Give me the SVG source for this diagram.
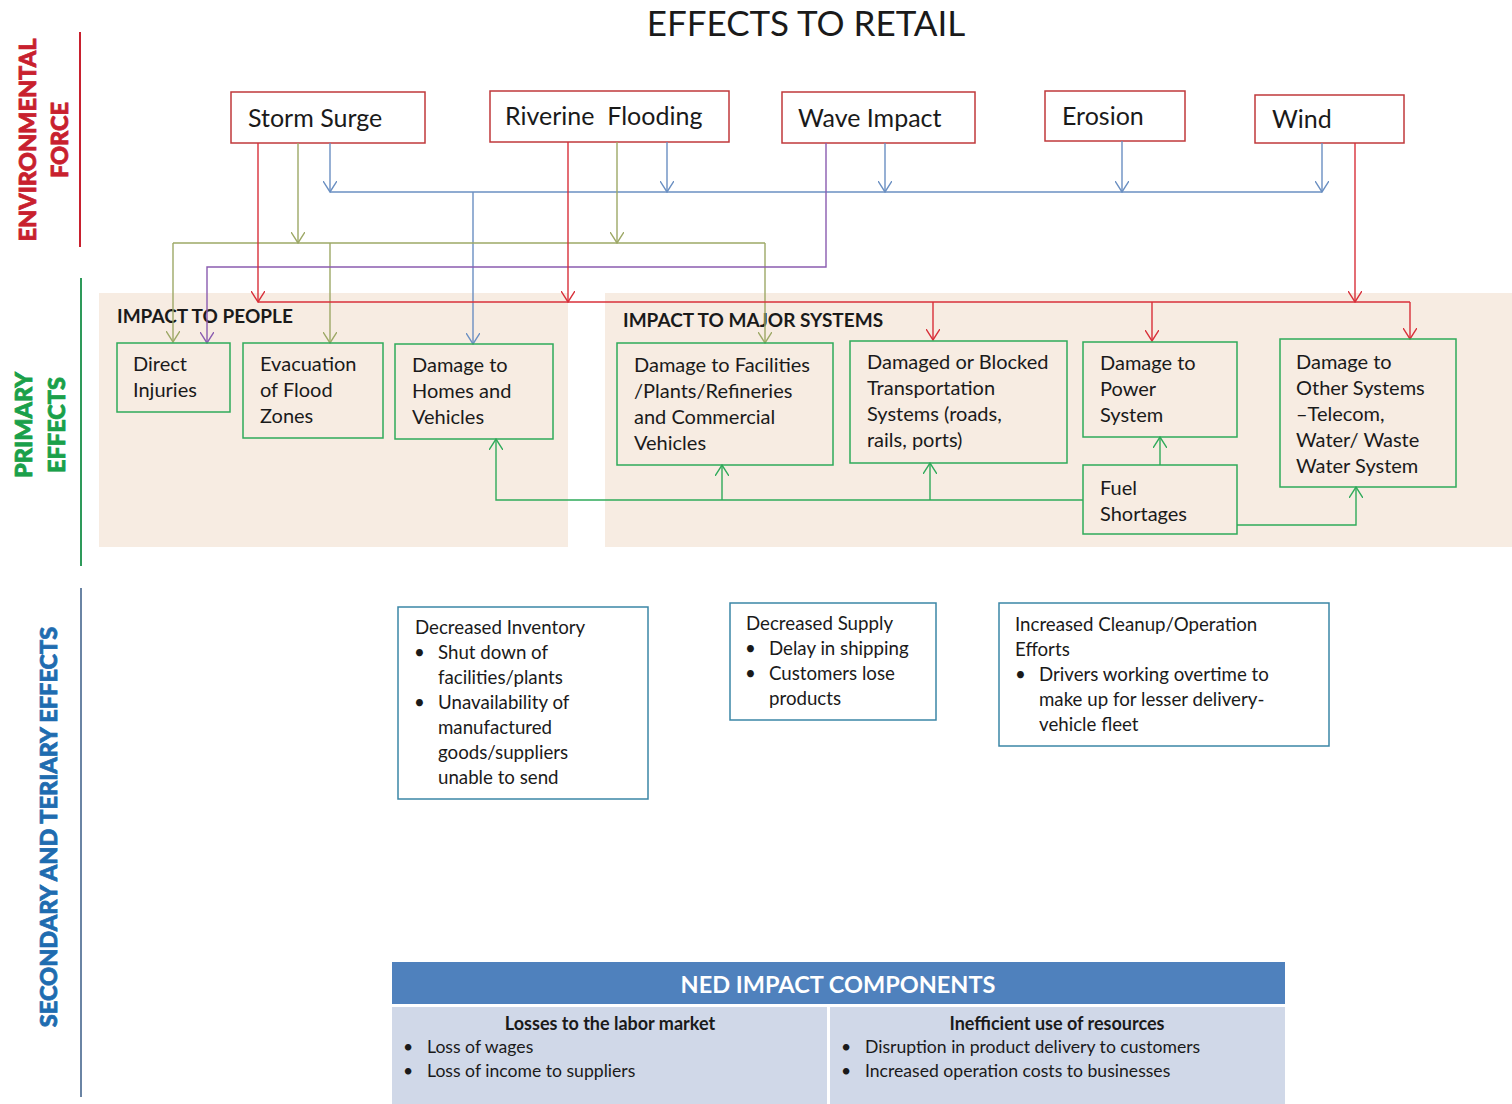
<svg xmlns="http://www.w3.org/2000/svg" width="1512" height="1104" viewBox="0 0 1512 1104">
  <style>
    text { font-family: Lato, "Open Sans", "Liberation Sans", sans-serif; fill: #1a1a1a; }
    .title { font-size: 35px; }
    .side { font-weight: 900; font-size: 23.5px; stroke-width: 0.8px; }
    .force { fill: #c8202e; stroke: #c8202e; }
    .prim { fill: #1aa04a; stroke: #1aa04a; }
    .sec { fill: #1f6cb0; stroke: #1f6cb0; }
    .src rect { fill: #ffffff; stroke: #c0393b; stroke-width: 1.5; }
    .src text { font-size: 25px; white-space: pre; }
    .eff rect { fill: none; stroke: #2faa5a; stroke-width: 1.5; }
    .eff text { font-size: 20px; }
    .hdr { font-weight: bold; font-size: 19px; }
    .sec2 rect { fill: #ffffff; stroke: #3b86a6; stroke-width: 1.5; }
    .sec2 text { font-size: 18.7px; }
    .ned text { font-size: 17.6px; }
    .ned .cap { font-weight: bold; font-size: 18px; }
    .ned .head { font-weight: bold; font-size: 23.5px; fill: #ffffff; }
    .c { fill: none; stroke-width: 1.4; }
    .red { stroke: #d8303a; marker-end: url(#aRed); }
    .olv { stroke: #9da866; marker-end: url(#aOlv); }
    .blu { stroke: #6a8fc2; marker-end: url(#aBlu); }
    .pur { stroke: #8a5cb0; marker-end: url(#aPur); }
    .grn { stroke: #2faa5a; marker-end: url(#aGrn); }
    .nm { marker-end: none; }
  </style>
  <defs>
    <marker id="aRed" viewBox="0 0 12 14" refX="11" refY="7" markerWidth="12" markerHeight="14" markerUnits="userSpaceOnUse" orient="auto">
      <path d="M0,0 L11,7 L0,14" fill="none" stroke="#d8303a" stroke-width="1.4"/>
    </marker>
    <marker id="aOlv" viewBox="0 0 12 14" refX="11" refY="7" markerWidth="12" markerHeight="14" markerUnits="userSpaceOnUse" orient="auto">
      <path d="M0,0 L11,7 L0,14" fill="none" stroke="#9da866" stroke-width="1.4"/>
    </marker>
    <marker id="aBlu" viewBox="0 0 12 14" refX="11" refY="7" markerWidth="12" markerHeight="14" markerUnits="userSpaceOnUse" orient="auto">
      <path d="M0,0 L11,7 L0,14" fill="none" stroke="#6a8fc2" stroke-width="1.4"/>
    </marker>
    <marker id="aPur" viewBox="0 0 12 14" refX="11" refY="7" markerWidth="12" markerHeight="14" markerUnits="userSpaceOnUse" orient="auto">
      <path d="M0,0 L11,7 L0,14" fill="none" stroke="#8a5cb0" stroke-width="1.4"/>
    </marker>
    <marker id="aGrn" viewBox="0 0 12 14" refX="11" refY="7" markerWidth="12" markerHeight="14" markerUnits="userSpaceOnUse" orient="auto">
      <path d="M0,0 L11,7 L0,14" fill="none" stroke="#2faa5a" stroke-width="1.4"/>
    </marker>
  </defs>

  <rect width="1512" height="1104" fill="#ffffff"/>

  <!-- title -->
  <text class="title" x="806" y="36" text-anchor="middle">EFFECTS TO RETAIL</text>

  <!-- row labels with their rules -->
  <g id="row-labels">
    <text class="side force" transform="translate(36,140) rotate(-90)" text-anchor="middle">ENVIRONMENTAL</text>
    <text class="side force" transform="translate(68,140) rotate(-90)" text-anchor="middle">FORCE</text>
    <line x1="80" y1="32" x2="80" y2="247" stroke="#c8202e" stroke-width="2"/>
    <text class="side prim" transform="translate(32,425) rotate(-90)" text-anchor="middle">PRIMARY</text>
    <text class="side prim" transform="translate(65,425) rotate(-90)" text-anchor="middle">EFFECTS</text>
    <line x1="81" y1="278" x2="81" y2="566" stroke="#2e9a5a" stroke-width="2"/>
    <text class="side sec" transform="translate(57,827) rotate(-90)" text-anchor="middle">SECONDARY AND TERIARY EFFECTS</text>
    <line x1="81" y1="588" x2="81" y2="1097" stroke="#6a84a4" stroke-width="2"/>
  </g>

  <!-- shaded panels for the primary effects -->
  <rect x="99" y="293" width="469" height="254" fill="#f7ece2"/>
  <rect x="605" y="293" width="907" height="254" fill="#f7ece2"/>
  <text class="hdr" x="117" y="323">IMPACT TO PEOPLE</text>
  <text class="hdr" x="623" y="327">IMPACT TO MAJOR SYSTEMS</text>

  <!-- environmental forces -->
  <g id="storm-surge" class="src"><rect x="231" y="92" width="194" height="51"/><text x="248" y="127">Storm Surge</text></g>
  <g id="riverine-flooding" class="src"><rect x="490" y="91" width="239" height="51"/><text x="505" y="125">Riverine  Flooding</text></g>
  <g id="wave-impact" class="src"><rect x="782" y="92" width="193" height="51"/><text x="798" y="127">Wave Impact</text></g>
  <g id="erosion" class="src"><rect x="1045" y="91" width="140" height="50"/><text x="1062" y="125">Erosion</text></g>
  <g id="wind" class="src"><rect x="1255" y="95" width="149" height="48"/><text x="1272" y="128">Wind</text></g>

  <!-- connectors -->
  <g id="connectors">
    <!-- blue bus -->
    <path class="c blu nm" d="M330,192 H1322"/>
    <path class="c blu" d="M330,143 V192"/>
    <path class="c blu" d="M667,142 V192"/>
    <path class="c blu" d="M885,143 V192"/>
    <path class="c blu" d="M1122,141 V192"/>
    <path class="c blu" d="M1322,143 V192"/>
    <path class="c blu" d="M473,192 V344"/>
    <!-- olive bus -->
    <path class="c olv nm" d="M173,243 H765"/>
    <path class="c olv" d="M298,143 V243"/>
    <path class="c olv" d="M617,142 V243"/>
    <path class="c olv" d="M173,243 V342"/>
    <path class="c olv" d="M330,243 V343"/>
    <path class="c olv" d="M765,243 V343"/>
    <!-- purple -->
    <path class="c pur" d="M826,143 V267 H207 V343"/>
    <!-- red bus -->
    <path class="c red nm" d="M258,302 H1410"/>
    <path class="c red" d="M258,143 V302"/>
    <path class="c red" d="M568,142 V302"/>
    <path class="c red" d="M1355,143 V302"/>
    <path class="c red" d="M933,302 V340"/>
    <path class="c red" d="M1152,302 V341"/>
    <path class="c red" d="M1410,302 V339"/>
    <!-- fuel shortages feeds -->
    <path class="c grn" d="M1160,465 V437"/>
    <path class="c grn" d="M1083,500 H496 V439"/>
    <path class="c grn" d="M722,500 V465"/>
    <path class="c grn" d="M930,500 V463"/>
    <path class="c grn" d="M1237,525 H1356 V487"/>
  </g>

  <!-- primary effects -->
  <g id="direct-injuries" class="eff"><rect x="117" y="343" width="113" height="69"/>
    <text x="133" y="371">Direct</text><text x="133" y="397">Injuries</text></g>
  <g id="evacuation" class="eff"><rect x="243" y="343" width="140" height="95"/>
    <text x="260" y="371">Evacuation</text><text x="260" y="397">of Flood</text><text x="260" y="423">Zones</text></g>
  <g id="damage-homes" class="eff"><rect x="395" y="344" width="158" height="95"/>
    <text x="412" y="372">Damage to</text><text x="412" y="398">Homes and</text><text x="412" y="424">Vehicles</text></g>
  <g id="damage-facilities" class="eff"><rect x="617" y="343" width="216" height="122"/>
    <text x="634" y="372">Damage to Facilities</text><text x="634" y="398">/Plants/Refineries</text><text x="634" y="424">and Commercial</text><text x="634" y="450">Vehicles</text></g>
  <g id="transportation" class="eff"><rect x="850" y="341" width="217" height="122"/>
    <text x="867" y="369">Damaged or Blocked</text><text x="867" y="395">Transportation</text><text x="867" y="421">Systems (roads,</text><text x="867" y="447">rails, ports)</text></g>
  <g id="power" class="eff"><rect x="1083" y="342" width="154" height="95"/>
    <text x="1100" y="370">Damage to</text><text x="1100" y="396">Power</text><text x="1100" y="422">System</text></g>
  <g id="fuel" class="eff"><rect x="1083" y="465" width="154" height="69"/>
    <text x="1100" y="495">Fuel</text><text x="1100" y="521">Shortages</text></g>
  <g id="other-systems" class="eff"><rect x="1280" y="339" width="176" height="148"/>
    <text x="1296" y="369">Damage to</text><text x="1296" y="395">Other Systems</text><text x="1296" y="421">–Telecom,</text><text x="1296" y="447">Water/ Waste</text><text x="1296" y="473">Water System</text></g>

  <!-- secondary and tertiary effects -->
  <g id="decreased-inventory" class="sec2"><rect x="398" y="607" width="250" height="192"/>
    <text x="415" y="634">Decreased Inventory</text>
    <text x="414" y="659">•</text><text x="438" y="659">Shut down of</text>
    <text x="438" y="684">facilities/plants</text>
    <text x="414" y="709">•</text><text x="438" y="709">Unavailability of</text>
    <text x="438" y="734">manufactured</text>
    <text x="438" y="759">goods/suppliers</text>
    <text x="438" y="784">unable to send</text></g>
  <g id="decreased-supply" class="sec2"><rect x="730" y="603" width="206" height="117"/>
    <text x="746" y="630">Decreased Supply</text>
    <text x="745" y="655">•</text><text x="769" y="655">Delay in shipping</text>
    <text x="745" y="680">•</text><text x="769" y="680">Customers lose</text>
    <text x="769" y="705">products</text></g>
  <g id="increased-cleanup" class="sec2"><rect x="999" y="603" width="330" height="143"/>
    <text x="1015" y="631">Increased Cleanup/Operation</text>
    <text x="1015" y="656">Efforts</text>
    <text x="1015" y="681">•</text><text x="1039" y="681">Drivers working overtime to</text>
    <text x="1039" y="706">make up for lesser delivery-</text>
    <text x="1039" y="731">vehicle fleet</text></g>

  <!-- NED impact components table -->
  <g id="ned-components" class="ned">
    <rect x="392" y="962" width="893" height="42" fill="#4f81bd"/>
    <rect x="392" y="1007" width="893" height="97" fill="#d0d8e8"/>
    <rect x="827" y="1007" width="3" height="97" fill="#ffffff"/>
    <text class="head" x="838" y="993" text-anchor="middle">NED IMPACT COMPONENTS</text>
    <text class="cap" x="610" y="1030" text-anchor="middle">Losses to the labor market</text>
    <text x="403" y="1053">•</text><text x="427" y="1053">Loss of wages</text>
    <text x="403" y="1077">•</text><text x="427" y="1077">Loss of income to suppliers</text>
    <text class="cap" x="1057" y="1030" text-anchor="middle">Inefficient use of resources</text>
    <text x="841" y="1053">•</text><text x="865" y="1053">Disruption in product delivery to customers</text>
    <text x="841" y="1077">•</text><text x="865" y="1077">Increased operation costs to businesses</text>
  </g>
</svg>
